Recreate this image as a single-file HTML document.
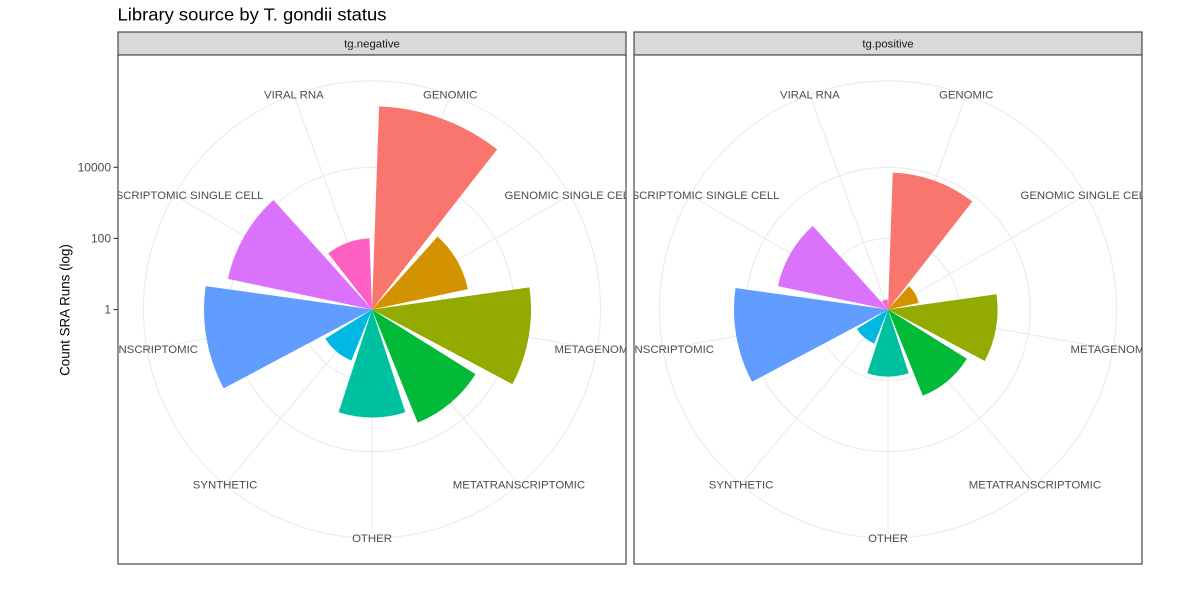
<!DOCTYPE html>
<html>
<head>
<meta charset="utf-8">
<style>
  html, body { margin: 0; padding: 0; background: #ffffff; }
  svg { display: block; font-family: "Liberation Sans", Arial, sans-serif; }
</style>
</head>
<body>
<svg width="1200" height="600" viewBox="0 0 1200 600" xmlns="http://www.w3.org/2000/svg">
  <defs>
    <clipPath id="c1"><rect x="118" y="55" width="508" height="509"/></clipPath>
    <clipPath id="c2"><rect x="634" y="55" width="508" height="509"/></clipPath>
  </defs>
  <rect x="0" y="0" width="1200" height="600" fill="#ffffff"/>

  <!-- Title -->
  <text x="117.5" y="20.5" font-size="17.6" fill="#000000" textLength="269" lengthAdjust="spacingAndGlyphs">Library source by T. gondii status</text>

  <!-- Y axis title -->
  <text transform="translate(69.5,310) rotate(-90)" x="0" y="0" text-anchor="middle" font-size="13.4" fill="#000000">Count SRA Runs (log)</text>

  <!-- Y ticks -->
  <g stroke="#333333" stroke-width="1.07">
    <line x1="113.5" y1="167.3" x2="118" y2="167.3"/>
    <line x1="113.5" y1="238.4" x2="118" y2="238.4"/>
    <line x1="113.5" y1="309.5" x2="118" y2="309.5"/>
  </g>
  <g font-size="12" fill="#4D4D4D" text-anchor="end">
    <text x="111" y="171.5">10000</text>
    <text x="111" y="242.6">100</text>
    <text x="111" y="313.7">1</text>
  </g>

  <!-- ================= PANEL 1 ================= -->
  <rect x="118" y="32" width="508" height="23" fill="#D9D9D9" stroke="#333333" stroke-width="1.07"/>
  <text x="372" y="47.5" text-anchor="middle" font-size="11.4" fill="#1A1A1A">tg.negative</text>

  <g clip-path="url(#c1)">
    <rect x="118" y="55" width="508" height="509" fill="#ffffff"/>
    <g transform="translate(372,309.5)" stroke="#EBEBEB" stroke-width="1.1" fill="none">
      <line x1="0" y1="0" x2="78.18" y2="-214.82"/>
      <line x1="0" y1="0" x2="197.97" y2="-114.30"/>
      <line x1="0" y1="0" x2="225.13" y2="39.68"/>
      <line x1="0" y1="0" x2="146.94" y2="175.11"/>
      <line x1="0" y1="0" x2="0" y2="228.6"/>
      <line x1="0" y1="0" x2="-146.94" y2="175.11"/>
      <line x1="0" y1="0" x2="-225.13" y2="39.68"/>
      <line x1="0" y1="0" x2="-197.97" y2="-114.30"/>
      <line x1="0" y1="0" x2="-78.18" y2="-214.82"/>
      <circle cx="0" cy="0" r="71.1"/>
      <circle cx="0" cy="0" r="142.2"/>
      <circle cx="0" cy="0" r="228.6"/>
    </g>
    <g stroke="none">
      <path d="M372 309.5 L379.09 106.42 A203.2 203.2 0 0 1 497.11 149.38 Z" fill="#F8766D"/>
      <path d="M372 309.5 L437.57 236.68 A98 98 0 0 1 467.85 289.13 Z" fill="#D39200"/>
      <path d="M372 309.5 L529.46 287.37 A159 159 0 0 1 512.38 384.15 Z" fill="#93AA00"/>
      <path d="M372 309.5 L475.46 374.15 A122 122 0 0 1 417.70 422.62 Z" fill="#00BA38"/>
      <path d="M372 309.5 L405.37 412.22 A108 108 0 0 1 338.63 412.22 Z" fill="#00C19F"/>
      <path d="M372 309.5 L351.40 360.50 A55 55 0 0 1 325.36 338.64 Z" fill="#00B9E3"/>
      <path d="M372 309.5 L223.67 388.38 A168 168 0 0 1 205.63 286.11 Z" fill="#619CFF"/>
      <path d="M372 309.5 L227.93 278.88 A147.3 147.3 0 0 1 273.44 200.04 Z" fill="#DB72FB"/>
      <path d="M372 309.5 L328.22 253.47 A71.1 71.1 0 0 1 369.52 238.44 Z" fill="#FF61C3"/>
    </g>
    <g transform="translate(372,309.5)" font-size="11.4" fill="#4D4D4D" text-anchor="middle">
      <text x="78.18" y="-210.8">GENOMIC</text>
      <text x="197.97" y="-110.3">GENOMIC SINGLE CELL</text>
      <text x="225.13" y="43.7">METAGENOMIC</text>
      <text x="146.94" y="179.1">METATRANSCRIPTOMIC</text>
      <text x="0" y="232.6">OTHER</text>
      <text x="-146.94" y="179.1">SYNTHETIC</text>
      <text x="-225.13" y="43.7">TRANSCRIPTOMIC</text>
      <text x="-197.97" y="-110.3">TRANSCRIPTOMIC SINGLE CELL</text>
      <text x="-78.18" y="-210.8">VIRAL RNA</text>
    </g>
  </g>
  <rect x="118" y="55" width="508" height="509" fill="none" stroke="#333333" stroke-width="1.07"/>

  <!-- ================= PANEL 2 ================= -->
  <rect x="634" y="32" width="508" height="23" fill="#D9D9D9" stroke="#333333" stroke-width="1.07"/>
  <text x="888" y="47.5" text-anchor="middle" font-size="11.4" fill="#1A1A1A">tg.positive</text>

  <g clip-path="url(#c2)">
    <rect x="634" y="55" width="508" height="509" fill="#ffffff"/>
    <g transform="translate(888,309.5)" stroke="#EBEBEB" stroke-width="1.1" fill="none">
      <line x1="0" y1="0" x2="78.18" y2="-214.82"/>
      <line x1="0" y1="0" x2="197.97" y2="-114.30"/>
      <line x1="0" y1="0" x2="225.13" y2="39.68"/>
      <line x1="0" y1="0" x2="146.94" y2="175.11"/>
      <line x1="0" y1="0" x2="0" y2="228.6"/>
      <line x1="0" y1="0" x2="-146.94" y2="175.11"/>
      <line x1="0" y1="0" x2="-225.13" y2="39.68"/>
      <line x1="0" y1="0" x2="-197.97" y2="-114.30"/>
      <line x1="0" y1="0" x2="-78.18" y2="-214.82"/>
      <circle cx="0" cy="0" r="71.1"/>
      <circle cx="0" cy="0" r="142.2"/>
      <circle cx="0" cy="0" r="228.6"/>
    </g>
    <g stroke="none">
      <path d="M888 309.5 L892.78 172.58 A137 137 0 0 1 972.35 201.54 Z" fill="#F8766D"/>
      <path d="M888 309.5 L909.01 286.17 A31.4 31.4 0 0 1 918.71 302.97 Z" fill="#D39200"/>
      <path d="M888 309.5 L996.54 294.24 A109.6 109.6 0 0 1 984.77 360.96 Z" fill="#93AA00"/>
      <path d="M888 309.5 L966.86 358.78 A93 93 0 0 1 922.84 395.73 Z" fill="#00BA38"/>
      <path d="M888 309.5 L908.70 373.22 A67 67 0 0 1 867.30 373.22 Z" fill="#00C19F"/>
      <path d="M888 309.5 L874.29 343.44 A36.6 36.6 0 0 1 856.96 328.89 Z" fill="#00B9E3"/>
      <path d="M888 309.5 L752.03 381.80 A154 154 0 0 1 735.49 288.06 Z" fill="#619CFF"/>
      <path d="M888 309.5 L777.96 286.11 A112.5 112.5 0 0 1 812.73 225.90 Z" fill="#DB72FB"/>
      <path d="M888 309.5 L881.84 301.62 A10 10 0 0 1 887.65 299.51 Z" fill="#FF61C3"/>
    </g>
    <g transform="translate(888,309.5)" font-size="11.4" fill="#4D4D4D" text-anchor="middle">
      <text x="78.18" y="-210.8">GENOMIC</text>
      <text x="197.97" y="-110.3">GENOMIC SINGLE CELL</text>
      <text x="225.13" y="43.7">METAGENOMIC</text>
      <text x="146.94" y="179.1">METATRANSCRIPTOMIC</text>
      <text x="0" y="232.6">OTHER</text>
      <text x="-146.94" y="179.1">SYNTHETIC</text>
      <text x="-225.13" y="43.7">TRANSCRIPTOMIC</text>
      <text x="-197.97" y="-110.3">TRANSCRIPTOMIC SINGLE CELL</text>
      <text x="-78.18" y="-210.8">VIRAL RNA</text>
    </g>
  </g>
  <rect x="634" y="55" width="508" height="509" fill="none" stroke="#333333" stroke-width="1.07"/>
</svg>
</body>
</html>
